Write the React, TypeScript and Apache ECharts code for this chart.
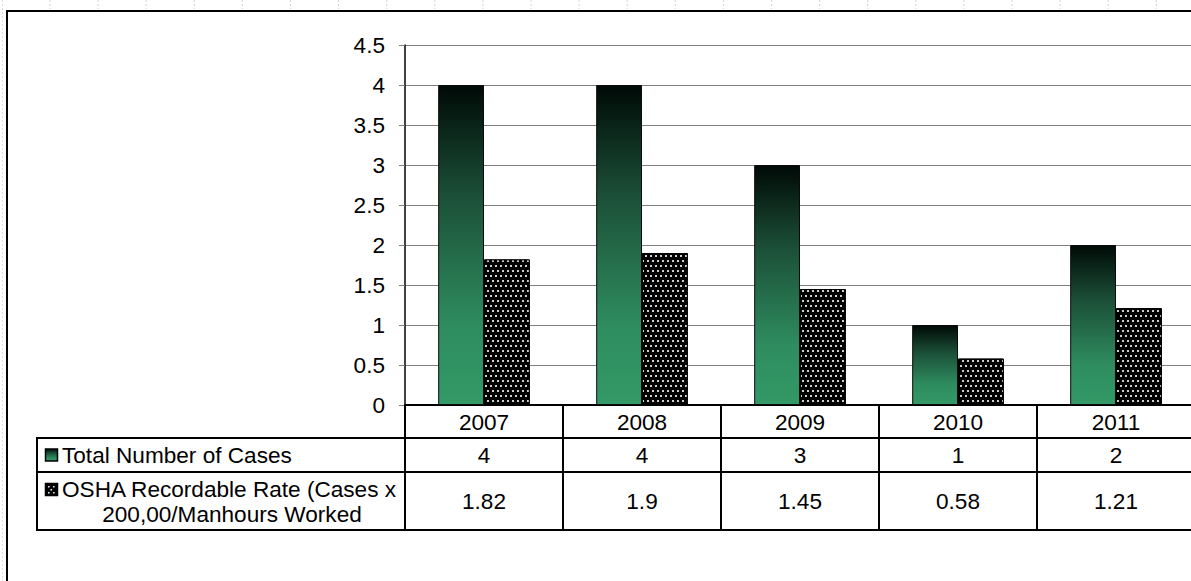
import React, { useEffect, useRef } from "react";
import * as echarts from "echarts";

const years = ["2007", "2008", "2009", "2010", "2011"];
const totalCases = [4, 4, 3, 1, 2];
const oshaRate = [1.82, 1.9, 1.45, 0.58, 1.21];
const seriesNames = [
  "Total Number of Cases",
  "OSHA Recordable Rate (Cases x 200,00/Manhours Worked",
];
const legendLines = [
  ["Total Number of Cases"],
  ["OSHA Recordable Rate (Cases x", "200,00/Manhours Worked"],
];
const yMin = 0;
const yMax = 4.5;
const yStep = 0.5;

const FONT = "'Liberation Sans', Arial, sans-serif";
const FS = 22.6;

const greenGrad = {
  type: "linear",
  x: 0,
  y: 0,
  x2: 0,
  y2: 1,
  colorStops: [
    { offset: 0, color: "#000a06" },
    { offset: 0.35, color: "#1c5038" },
    { offset: 0.75, color: "#2e8c5f" },
    { offset: 1, color: "#339966" },
  ],
};

export default function App() {
  const ref = useRef<HTMLDivElement>(null);
  useEffect(() => {
    if (!ref.current) return;
    const chart = echarts.init(ref.current, null, { renderer: "svg" });
    const gridLeft = 405;
    const gridTop = 45;
    const gridW = 790;
    const gridH = 360;
    chart.setOption({
      animation: false,
      backgroundColor: "#ffffff",
      textStyle: { fontFamily: FONT },
      grid: { left: gridLeft, top: gridTop, width: gridW, height: gridH, containLabel: false },
      xAxis: {
        type: "category",
        data: years,
        axisLine: { show: true, lineStyle: { color: "#000", width: 2 } },
        axisTick: { show: true, length: 125, inside: false, lineStyle: { color: "#000", width: 2 } },
        axisLabel: { show: true, color: "#000", fontSize: FS, fontFamily: FONT, margin: 6 },
        splitLine: { show: false },
      },
      yAxis: {
        type: "value",
        min: yMin,
        max: yMax,
        interval: yStep,
        axisLine: { show: true, lineStyle: { color: "#000", width: 1.5 } },
        axisTick: { show: true, length: 6, lineStyle: { color: "#808080", width: 1 } },
        axisLabel: { color: "#000", fontSize: FS, fontFamily: FONT, margin: 20 },
        splitLine: { show: true, lineStyle: { color: "#808080", width: 1 } },
      },
      series: [
        {
          name: seriesNames[0],
          type: "bar",
          data: totalCases,
          barGap: "0%",
          barCategoryGap: "42%",
          itemStyle: { color: greenGrad, borderColor: "#0b0b0b", borderWidth: 1 },
        },
        {
          name: seriesNames[1],
          type: "bar",
          data: oshaRate,
          barGap: "0%",
          barCategoryGap: "42%",
          itemStyle: {
            color: "#000",
            borderColor: "#000",
            borderWidth: 1,
            decal: {
              symbol: "rect",
              symbolSize: 1,
              color: "rgba(230,230,230,0.9)",
              dashArrayX: [
                [1.4, 2.6],
                [0, 2, 1.4, 0.6],
              ],
              dashArrayY: [1.4, 2.2],
              rotation: 0,
            },
          },
        },
      ],
    });

    const base = chart.convertToPixel({ yAxisIndex: 0 }, 0) as number;
    const xs = years.map((y) => chart.convertToPixel({ xAxisIndex: 0 }, y) as number);
    const tableLeft = 37;
    const tableRight = gridLeft + gridW;
    const row1Top = base + 33;
    const row2Top = base + 67;
    const tableBottom = base + 125;
    const row1Mid = (row1Top + row2Top) / 2;
    const row2Mid = (row2Top + tableBottom) / 2;

    const g: any[] = [];
    // outer frame
    g.push({
      type: "rect",
      shape: { x: 7, y: 11, width: 1400, height: 800 },
      style: { fill: "none", stroke: "#000", lineWidth: 2 },
      silent: true,
    });
    // faint page marks
    for (let k = 0; k < 25; k++) {
      const x = 50 + 48.1 * k;
      g.push({
        type: "line",
        shape: { x1: x, y1: 0, x2: x, y2: 9 },
        style: { stroke: "#d4d4d4", lineWidth: 1, lineDash: [2, 2] },
        silent: true,
      });
    }
    g.push({
      type: "line",
      shape: { x1: 2.5, y1: 0, x2: 2.5, y2: 581 },
      style: { stroke: "#dcdcdc", lineWidth: 1, lineDash: [2, 2] },
      silent: true,
    });
    // table lines
    [row1Top, row2Top, tableBottom].forEach((y) =>
      g.push({
        type: "line",
        shape: { x1: tableLeft - 1, y1: y, x2: tableRight + 20, y2: y },
        style: { stroke: "#000", lineWidth: 2 },
        silent: true,
      })
    );
    g.push({
      type: "line",
      shape: { x1: tableLeft, y1: row1Top, x2: tableLeft, y2: tableBottom },
      style: { stroke: "#000", lineWidth: 2 },
      silent: true,
    });
    // legend icons
    g.push({
      type: "rect",
      shape: { x: 45.5, y: row1Mid - 6, width: 12, height: 12 },
      style: { fill: greenGrad, stroke: "#000", lineWidth: 1.5 },
      silent: true,
    });
    g.push({
      type: "rect",
      shape: { x: 45.5, y: row2Top + 11.5, width: 12, height: 12 },
      style: { fill: "#000", stroke: "#000", lineWidth: 1.5 },
      silent: true,
    });
    [
      [48, row2Top + 14],
      [53, row2Top + 14],
      [50.5, row2Top + 17],
      [48, row2Top + 20],
      [53, row2Top + 20],
    ].forEach(([x, y]) =>
      g.push({
        type: "rect",
        shape: { x, y, width: 1.6, height: 1.6 },
        style: { fill: "#e8e8e8" },
        silent: true,
      })
    );
    // legend texts
    g.push({
      type: "text",
      x: 62,
      y: row1Mid,
      style: {
        text: legendLines[0][0],
        fill: "#000",
        font: `${FS}px ${FONT}`,
        align: "left",
        verticalAlign: "middle",
      },
      silent: true,
    });
    g.push({
      type: "text",
      x: 62,
      y: row2Top + 17.5,
      style: {
        text: legendLines[1][0],
        fill: "#000",
        font: `${FS}px ${FONT}`,
        align: "left",
        verticalAlign: "middle",
      },
      silent: true,
    });
    g.push({
      type: "text",
      x: 232,
      y: row2Top + 42.5,
      style: {
        text: legendLines[1][1],
        fill: "#000",
        font: `${FS}px ${FONT}`,
        align: "center",
        verticalAlign: "middle",
      },
      silent: true,
    });
    // values
    xs.forEach((x, i) => {
      g.push({
        type: "text",
        x,
        y: row1Mid,
        style: {
          text: String(totalCases[i]),
          fill: "#000",
          font: `${FS}px ${FONT}`,
          align: "center",
          verticalAlign: "middle",
        },
        silent: true,
      });
      g.push({
        type: "text",
        x,
        y: row2Mid,
        style: {
          text: String(oshaRate[i]),
          fill: "#000",
          font: `${FS}px ${FONT}`,
          align: "center",
          verticalAlign: "middle",
        },
        silent: true,
      });
    });
    chart.setOption({ graphic: g });
    return () => chart.dispose();
  }, []);

  return (
    <div
      style={{
        position: "fixed",
        left: 0,
        top: 0,
        width: 1191,
        height: 581,
        overflow: "hidden",
        background: "#fff",
      }}
    >
      <div ref={ref} style={{ width: 1240, height: 581 }} />
    </div>
  );
}
